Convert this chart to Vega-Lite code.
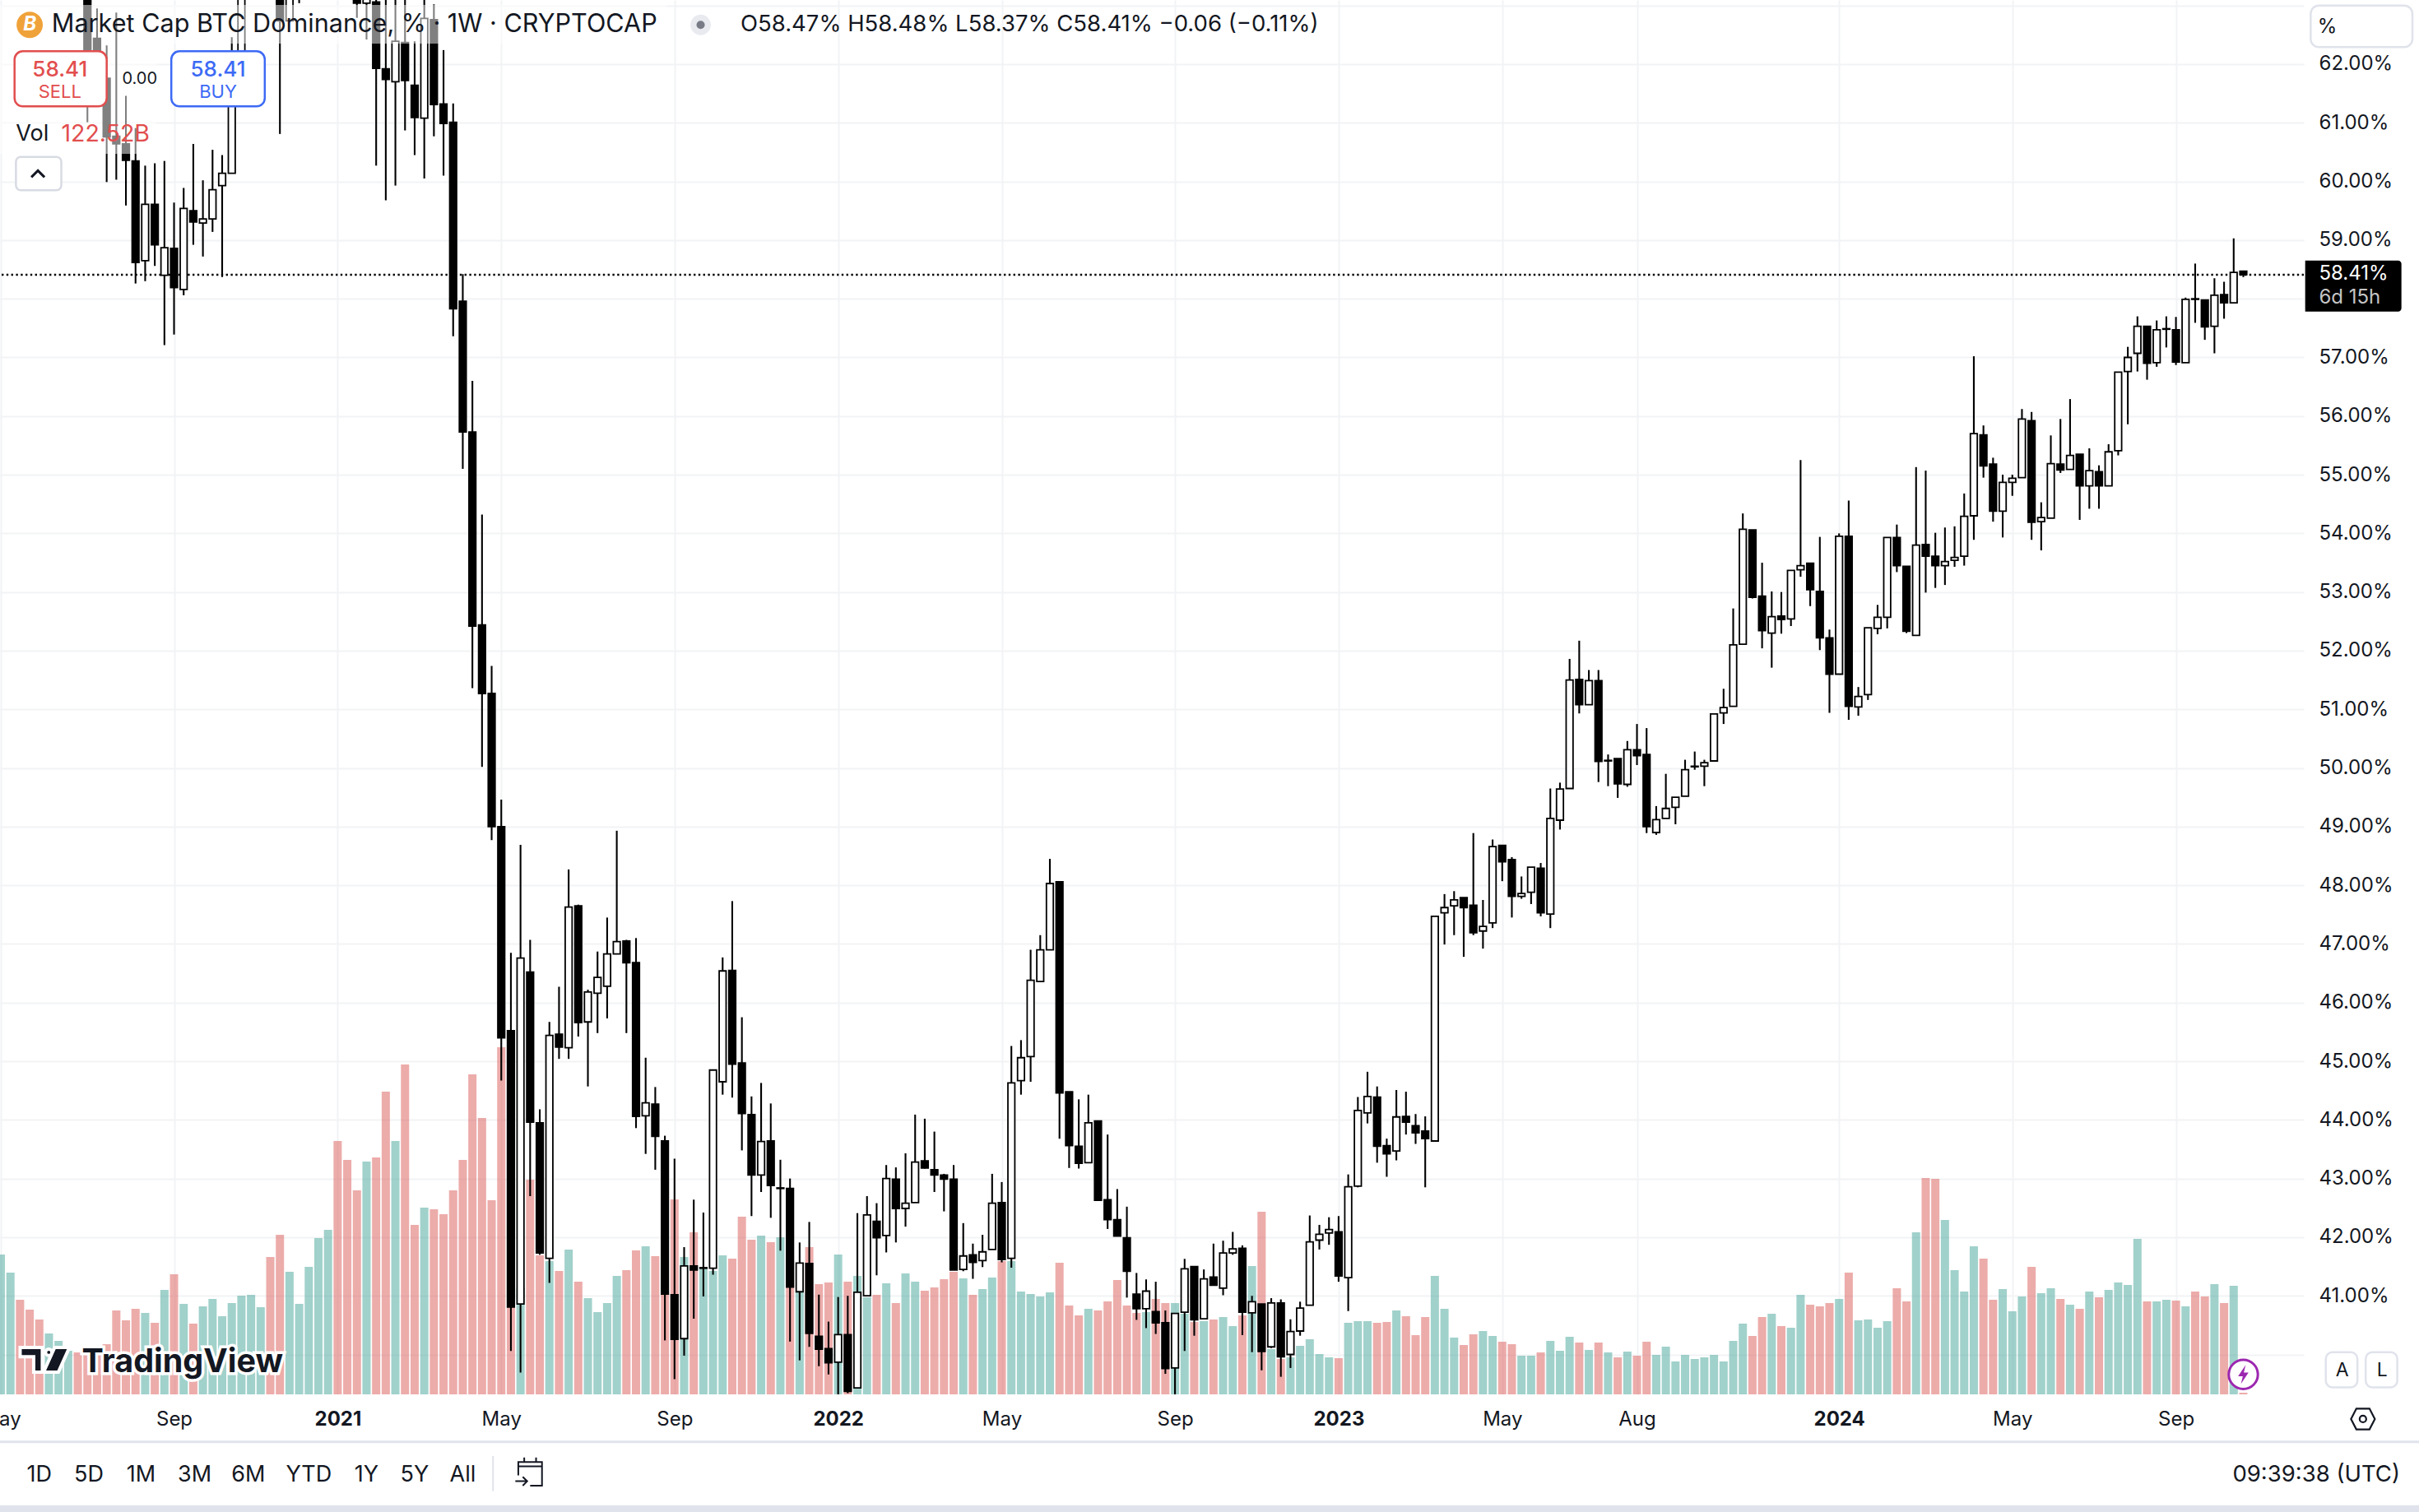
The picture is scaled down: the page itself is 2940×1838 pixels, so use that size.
{
  "$schema": "https://vega.github.io/schema/vega-lite/v6.json",
  "width": 2800,
  "height": 1695,
  "autosize": {"type": "none"},
  "padding": {"left": 0, "top": 0, "right": 140, "bottom": 143},
  "background": "white",
  "datasets": {
    "volume": [
      {"week":"2020-05-04","vol":17.0,"side":"up"},{"week":"2020-05-11","vol":14.8,"side":"up"},{"week":"2020-05-18","vol":11.5,"side":"down"},{"week":"2020-05-25","vol":10.3,"side":"down"},
      {"week":"2020-06-01","vol":9.1,"side":"down"},{"week":"2020-06-08","vol":7.4,"side":"up"},{"week":"2020-06-15","vol":6.5,"side":"up"},{"week":"2020-06-22","vol":5.3,"side":"up"},{"week":"2020-06-29","vol":5.1,"side":"down"},
      {"week":"2020-07-06","vol":4.8,"side":"down"},{"week":"2020-07-13","vol":5.5,"side":"down"},{"week":"2020-07-20","vol":6.1,"side":"down"},{"week":"2020-07-27","vol":10.2,"side":"down"},
      {"week":"2020-08-03","vol":9.0,"side":"down"},{"week":"2020-08-10","vol":10.4,"side":"down"},{"week":"2020-08-17","vol":9.9,"side":"up"},{"week":"2020-08-24","vol":8.7,"side":"down"},{"week":"2020-08-31","vol":12.7,"side":"up"},
      {"week":"2020-09-07","vol":14.6,"side":"down"},{"week":"2020-09-14","vol":11.0,"side":"up"},{"week":"2020-09-21","vol":8.6,"side":"down"},{"week":"2020-09-28","vol":10.7,"side":"up"},
      {"week":"2020-10-05","vol":11.6,"side":"up"},{"week":"2020-10-12","vol":9.5,"side":"up"},{"week":"2020-10-19","vol":11.1,"side":"up"},{"week":"2020-10-26","vol":12.0,"side":"up"},
      {"week":"2020-11-02","vol":12.1,"side":"up"},{"week":"2020-11-09","vol":10.6,"side":"up"},{"week":"2020-11-16","vol":16.7,"side":"down"},{"week":"2020-11-23","vol":19.4,"side":"down"},{"week":"2020-11-30","vol":14.9,"side":"up"},
      {"week":"2020-12-07","vol":11.0,"side":"up"},{"week":"2020-12-14","vol":15.5,"side":"up"},{"week":"2020-12-21","vol":19.0,"side":"up"},{"week":"2020-12-28","vol":20.0,"side":"up"},
      {"week":"2021-01-04","vol":30.8,"side":"down"},{"week":"2021-01-11","vol":28.5,"side":"down"},{"week":"2021-01-18","vol":24.8,"side":"down"},{"week":"2021-01-25","vol":28.3,"side":"up"},
      {"week":"2021-02-01","vol":28.8,"side":"down"},{"week":"2021-02-08","vol":36.8,"side":"down"},{"week":"2021-02-15","vol":30.8,"side":"up"},{"week":"2021-02-22","vol":40.1,"side":"down"},
      {"week":"2021-03-01","vol":20.6,"side":"down"},{"week":"2021-03-08","vol":22.7,"side":"up"},{"week":"2021-03-15","vol":22.5,"side":"down"},{"week":"2021-03-22","vol":21.9,"side":"down"},{"week":"2021-03-29","vol":24.8,"side":"down"},
      {"week":"2021-04-05","vol":28.5,"side":"down"},{"week":"2021-04-12","vol":38.9,"side":"down"},{"week":"2021-04-19","vol":33.6,"side":"down"},{"week":"2021-04-26","vol":23.6,"side":"down"},
      {"week":"2021-05-03","vol":42.2,"side":"down"},{"week":"2021-05-10","vol":20.5,"side":"down"},{"week":"2021-05-17","vol":13.0,"side":"up"},{"week":"2021-05-24","vol":26.1,"side":"down"},{"week":"2021-05-31","vol":16.9,"side":"down"},
      {"week":"2021-06-07","vol":16.2,"side":"up"},{"week":"2021-06-14","vol":15.0,"side":"down"},{"week":"2021-06-21","vol":17.6,"side":"up"},{"week":"2021-06-28","vol":13.7,"side":"down"},
      {"week":"2021-07-05","vol":11.7,"side":"up"},{"week":"2021-07-12","vol":10.0,"side":"up"},{"week":"2021-07-19","vol":11.1,"side":"up"},{"week":"2021-07-26","vol":14.4,"side":"up"},
      {"week":"2021-08-02","vol":15.1,"side":"down"},{"week":"2021-08-09","vol":17.5,"side":"down"},{"week":"2021-08-16","vol":18.0,"side":"up"},{"week":"2021-08-23","vol":16.8,"side":"down"},{"week":"2021-08-30","vol":12.5,"side":"down"},
      {"week":"2021-09-06","vol":23.7,"side":"down"},{"week":"2021-09-13","vol":16.7,"side":"up"},{"week":"2021-09-20","vol":19.7,"side":"down"},{"week":"2021-09-27","vol":15.3,"side":"up"},
      {"week":"2021-10-04","vol":15.0,"side":"up"},{"week":"2021-10-11","vol":16.9,"side":"up"},{"week":"2021-10-18","vol":16.5,"side":"down"},{"week":"2021-10-25","vol":21.6,"side":"down"},
      {"week":"2021-11-01","vol":18.8,"side":"down"},{"week":"2021-11-08","vol":19.3,"side":"up"},{"week":"2021-11-15","vol":18.5,"side":"down"},{"week":"2021-11-22","vol":19.1,"side":"up"},{"week":"2021-11-29","vol":14.0,"side":"down"},
      {"week":"2021-12-06","vol":12.5,"side":"up"},{"week":"2021-12-13","vol":17.9,"side":"down"},{"week":"2021-12-20","vol":13.4,"side":"down"},{"week":"2021-12-27","vol":13.6,"side":"down"},
      {"week":"2022-01-03","vol":17.0,"side":"up"},{"week":"2022-01-10","vol":13.7,"side":"down"},{"week":"2022-01-17","vol":14.4,"side":"up"},{"week":"2022-01-24","vol":11.8,"side":"up"},{"week":"2022-01-31","vol":12.1,"side":"down"},
      {"week":"2022-02-07","vol":13.5,"side":"up"},{"week":"2022-02-14","vol":11.1,"side":"down"},{"week":"2022-02-21","vol":14.7,"side":"up"},{"week":"2022-02-28","vol":13.7,"side":"up"},
      {"week":"2022-03-07","vol":12.6,"side":"down"},{"week":"2022-03-14","vol":13.0,"side":"down"},{"week":"2022-03-21","vol":14.0,"side":"down"},{"week":"2022-03-28","vol":14.9,"side":"down"},
      {"week":"2022-04-04","vol":14.1,"side":"up"},{"week":"2022-04-11","vol":12.1,"side":"down"},{"week":"2022-04-18","vol":12.8,"side":"up"},{"week":"2022-04-25","vol":14.2,"side":"up"},
      {"week":"2022-05-02","vol":16.2,"side":"down"},{"week":"2022-05-09","vol":16.2,"side":"up"},{"week":"2022-05-16","vol":12.5,"side":"up"},{"week":"2022-05-23","vol":12.2,"side":"up"},{"week":"2022-05-30","vol":11.9,"side":"up"},
      {"week":"2022-06-06","vol":12.4,"side":"up"},{"week":"2022-06-13","vol":16.0,"side":"down"},{"week":"2022-06-20","vol":10.8,"side":"down"},{"week":"2022-06-27","vol":9.6,"side":"down"},
      {"week":"2022-07-04","vol":10.4,"side":"up"},{"week":"2022-07-11","vol":10.2,"side":"down"},{"week":"2022-07-18","vol":11.3,"side":"down"},{"week":"2022-07-25","vol":13.9,"side":"down"},
      {"week":"2022-08-01","vol":10.8,"side":"down"},{"week":"2022-08-08","vol":9.9,"side":"down"},{"week":"2022-08-15","vol":10.0,"side":"up"},{"week":"2022-08-22","vol":11.6,"side":"down"},{"week":"2022-08-29","vol":11.1,"side":"down"},
      {"week":"2022-09-05","vol":11.1,"side":"up"},{"week":"2022-09-12","vol":9.8,"side":"up"},{"week":"2022-09-19","vol":8.8,"side":"down"},{"week":"2022-09-26","vol":8.9,"side":"up"},
      {"week":"2022-10-03","vol":9.1,"side":"down"},{"week":"2022-10-10","vol":9.4,"side":"up"},{"week":"2022-10-17","vol":8.3,"side":"up"},{"week":"2022-10-24","vol":9.6,"side":"down"},{"week":"2022-10-31","vol":15.6,"side":"up"},
      {"week":"2022-11-07","vol":22.2,"side":"down"},{"week":"2022-11-14","vol":5.5,"side":"up"},{"week":"2022-11-21","vol":4.3,"side":"down"},{"week":"2022-11-28","vol":4.5,"side":"up"},
      {"week":"2022-12-05","vol":5.9,"side":"up"},{"week":"2022-12-12","vol":6.7,"side":"up"},{"week":"2022-12-19","vol":4.9,"side":"up"},{"week":"2022-12-26","vol":4.5,"side":"up"},
      {"week":"2023-01-02","vol":4.4,"side":"down"},{"week":"2023-01-09","vol":8.7,"side":"up"},{"week":"2023-01-16","vol":8.9,"side":"up"},{"week":"2023-01-23","vol":8.9,"side":"up"},{"week":"2023-01-30","vol":8.7,"side":"down"},
      {"week":"2023-02-06","vol":8.8,"side":"down"},{"week":"2023-02-13","vol":10.2,"side":"up"},{"week":"2023-02-20","vol":9.5,"side":"down"},{"week":"2023-02-27","vol":7.2,"side":"down"},
      {"week":"2023-03-06","vol":9.4,"side":"down"},{"week":"2023-03-13","vol":14.4,"side":"up"},{"week":"2023-03-20","vol":10.4,"side":"up"},{"week":"2023-03-27","vol":6.9,"side":"up"},
      {"week":"2023-04-03","vol":6.0,"side":"down"},{"week":"2023-04-10","vol":7.3,"side":"down"},{"week":"2023-04-17","vol":7.7,"side":"up"},{"week":"2023-04-24","vol":7.1,"side":"up"},
      {"week":"2023-05-01","vol":6.4,"side":"down"},{"week":"2023-05-08","vol":6.1,"side":"down"},{"week":"2023-05-15","vol":4.7,"side":"up"},{"week":"2023-05-22","vol":4.7,"side":"up"},{"week":"2023-05-29","vol":5.1,"side":"down"},
      {"week":"2023-06-05","vol":6.5,"side":"up"},{"week":"2023-06-12","vol":5.3,"side":"up"},{"week":"2023-06-19","vol":7.0,"side":"up"},{"week":"2023-06-26","vol":6.3,"side":"down"},
      {"week":"2023-07-03","vol":5.4,"side":"up"},{"week":"2023-07-10","vol":6.3,"side":"down"},{"week":"2023-07-17","vol":5.1,"side":"up"},{"week":"2023-07-24","vol":4.5,"side":"down"},{"week":"2023-07-31","vol":5.2,"side":"up"},
      {"week":"2023-08-07","vol":4.7,"side":"down"},{"week":"2023-08-14","vol":6.4,"side":"down"},{"week":"2023-08-21","vol":4.8,"side":"up"},{"week":"2023-08-28","vol":5.8,"side":"up"},
      {"week":"2023-09-04","vol":4.0,"side":"up"},{"week":"2023-09-11","vol":4.8,"side":"up"},{"week":"2023-09-18","vol":4.3,"side":"up"},{"week":"2023-09-25","vol":4.5,"side":"up"},
      {"week":"2023-10-02","vol":4.8,"side":"up"},{"week":"2023-10-09","vol":4.0,"side":"up"},{"week":"2023-10-16","vol":6.5,"side":"up"},{"week":"2023-10-23","vol":8.6,"side":"up"},{"week":"2023-10-30","vol":7.1,"side":"down"},
      {"week":"2023-11-06","vol":9.4,"side":"down"},{"week":"2023-11-13","vol":9.8,"side":"up"},{"week":"2023-11-20","vol":8.3,"side":"down"},{"week":"2023-11-27","vol":8.1,"side":"up"},
      {"week":"2023-12-04","vol":12.1,"side":"up"},{"week":"2023-12-11","vol":10.9,"side":"down"},{"week":"2023-12-18","vol":10.7,"side":"down"},{"week":"2023-12-25","vol":11.1,"side":"down"},
      {"week":"2024-01-01","vol":11.6,"side":"up"},{"week":"2024-01-08","vol":14.8,"side":"down"},{"week":"2024-01-15","vol":9.0,"side":"up"},{"week":"2024-01-22","vol":9.1,"side":"up"},{"week":"2024-01-29","vol":8.1,"side":"up"},
      {"week":"2024-02-05","vol":8.9,"side":"up"},{"week":"2024-02-12","vol":12.9,"side":"down"},{"week":"2024-02-19","vol":11.3,"side":"down"},{"week":"2024-02-26","vol":19.7,"side":"up"},
      {"week":"2024-03-04","vol":26.3,"side":"down"},{"week":"2024-03-11","vol":26.2,"side":"down"},{"week":"2024-03-18","vol":21.2,"side":"up"},{"week":"2024-03-25","vol":15.1,"side":"up"},
      {"week":"2024-04-01","vol":12.5,"side":"up"},{"week":"2024-04-08","vol":18.0,"side":"up"},{"week":"2024-04-15","vol":16.5,"side":"down"},{"week":"2024-04-22","vol":11.5,"side":"down"},{"week":"2024-04-29","vol":12.8,"side":"up"},
      {"week":"2024-05-06","vol":10.1,"side":"up"},{"week":"2024-05-13","vol":11.9,"side":"up"},{"week":"2024-05-20","vol":15.5,"side":"down"},{"week":"2024-05-27","vol":12.3,"side":"up"},
      {"week":"2024-06-03","vol":12.9,"side":"up"},{"week":"2024-06-10","vol":11.6,"side":"down"},{"week":"2024-06-17","vol":10.9,"side":"up"},{"week":"2024-06-24","vol":10.4,"side":"down"},
      {"week":"2024-07-01","vol":12.5,"side":"up"},{"week":"2024-07-08","vol":11.8,"side":"down"},{"week":"2024-07-15","vol":12.7,"side":"up"},{"week":"2024-07-22","vol":13.6,"side":"up"},{"week":"2024-07-29","vol":13.3,"side":"up"},
      {"week":"2024-08-05","vol":18.9,"side":"up"},{"week":"2024-08-12","vol":11.3,"side":"down"},{"week":"2024-08-19","vol":11.3,"side":"up"},{"week":"2024-08-26","vol":11.5,"side":"up"},
      {"week":"2024-09-02","vol":11.4,"side":"down"},{"week":"2024-09-09","vol":10.7,"side":"up"},{"week":"2024-09-16","vol":12.5,"side":"down"},{"week":"2024-09-23","vol":11.9,"side":"down"},{"week":"2024-09-30","vol":13.4,"side":"up"},
      {"week":"2024-10-07","vol":11.1,"side":"down"},{"week":"2024-10-14","vol":13.2,"side":"up"},{"week":"2024-10-21","vol":0.2,"side":"down"}
    ],
    "candles": [
      {"week":"2020-07-06","open":63.5,"high":63.8,"low":61.01,"close":62.2},
      {"week":"2020-07-13","open":62.44,"high":62.95,"low":61.6,"close":62.1},
      {"week":"2020-07-20","open":61.76,"high":62.32,"low":59.99,"close":60.76},
      {"week":"2020-07-27","open":60.77,"high":62.88,"low":60.03,"close":60.64},
      {"week":"2020-08-03","open":60.64,"high":61.46,"low":59.59,"close":60.36},
      {"week":"2020-08-10","open":60.35,"high":60.91,"low":58.26,"close":58.62},
      {"week":"2020-08-17","open":58.65,"high":60.27,"low":58.3,"close":59.61},
      {"week":"2020-08-24","open":59.61,"high":60.31,"low":58.56,"close":58.92},
      {"week":"2020-08-31","open":58.4,"high":60.35,"low":57.21,"close":58.87},
      {"week":"2020-09-07","open":58.86,"high":59.64,"low":57.39,"close":58.19},
      {"week":"2020-09-14","open":58.16,"high":59.89,"low":58.06,"close":59.54},
      {"week":"2020-09-21","open":59.5,"high":60.64,"low":58.92,"close":59.31},
      {"week":"2020-09-28","open":59.29,"high":60.02,"low":58.72,"close":59.36},
      {"week":"2020-10-05","open":59.36,"high":60.54,"low":59.14,"close":59.86},
      {"week":"2020-10-12","open":59.93,"high":60.45,"low":58.37,"close":60.14},
      {"week":"2020-10-19","open":60.14,"high":62.46,"low":60.14,"close":62.16},
      {"week":"2020-10-26","open":61.9,"high":64.5,"low":61.9,"close":64.3},
      {"week":"2020-11-23","open":63.6,"high":63.8,"low":60.81,"close":62.74},
      {"week":"2020-11-30","open":62.74,"high":63.8,"low":62.74,"close":63.6},
      {"week":"2020-12-07","open":63.6,"high":63.8,"low":63.04,"close":63.3},
      {"week":"2021-01-18","open":63.4,"high":63.5,"low":62.79,"close":63.04},
      {"week":"2021-01-25","open":63.04,"high":63.5,"low":62.42,"close":63.3},
      {"week":"2021-02-01","open":63.06,"high":63.3,"low":60.27,"close":61.93},
      {"week":"2021-02-08","open":61.92,"high":63.3,"low":59.68,"close":61.74},
      {"week":"2021-02-15","open":61.7,"high":63.3,"low":59.93,"close":62.39},
      {"week":"2021-02-22","open":62.37,"high":63.3,"low":60.87,"close":61.72},
      {"week":"2021-03-01","open":61.64,"high":62.39,"low":60.45,"close":61.09},
      {"week":"2021-03-08","open":61.08,"high":63.3,"low":60.05,"close":62.78},
      {"week":"2021-03-15","open":62.76,"high":63.02,"low":60.77,"close":61.31},
      {"week":"2021-03-22","open":61.32,"high":62.24,"low":60.1,"close":60.99},
      {"week":"2021-03-29","open":61.01,"high":61.33,"low":57.36,"close":57.83},
      {"week":"2021-04-05","open":57.96,"high":58.42,"low":55.1,"close":55.73},
      {"week":"2021-04-12","open":55.73,"high":56.6,"low":51.36,"close":52.42},
      {"week":"2021-04-19","open":52.44,"high":54.32,"low":50.02,"close":51.27},
      {"week":"2021-04-26","open":51.27,"high":51.74,"low":48.77,"close":49.0},
      {"week":"2021-05-03","open":49.0,"high":49.46,"low":44.67,"close":45.4},
      {"week":"2021-05-10","open":45.52,"high":46.85,"low":40.06,"close":40.81},
      {"week":"2021-05-17","open":40.86,"high":48.69,"low":39.69,"close":46.76},
      {"week":"2021-05-24","open":46.52,"high":47.07,"low":42.7,"close":43.96},
      {"week":"2021-05-31","open":43.95,"high":44.18,"low":41.7,"close":41.73},
      {"week":"2021-06-07","open":41.64,"high":45.67,"low":41.22,"close":45.44},
      {"week":"2021-06-14","open":45.46,"high":46.27,"low":45.04,"close":45.24},
      {"week":"2021-06-21","open":45.23,"high":48.27,"low":45.04,"close":47.63},
      {"week":"2021-06-28","open":47.65,"high":47.67,"low":45.42,"close":45.66},
      {"week":"2021-07-05","open":45.67,"high":46.22,"low":44.57,"close":46.18},
      {"week":"2021-07-12","open":46.16,"high":46.87,"low":45.48,"close":46.43},
      {"week":"2021-07-19","open":46.28,"high":47.45,"low":45.73,"close":46.83},
      {"week":"2021-07-26","open":46.83,"high":48.93,"low":46.83,"close":47.04},
      {"week":"2021-08-02","open":47.05,"high":47.07,"low":45.48,"close":46.68},
      {"week":"2021-08-09","open":46.68,"high":47.1,"low":43.86,"close":44.06},
      {"week":"2021-08-16","open":44.07,"high":45.06,"low":43.42,"close":44.29},
      {"week":"2021-08-23","open":44.27,"high":44.56,"low":43.15,"close":43.72},
      {"week":"2021-08-30","open":43.64,"high":43.73,"low":40.24,"close":41.03},
      {"week":"2021-09-06","open":41.02,"high":43.34,"low":39.58,"close":40.26},
      {"week":"2021-09-13","open":40.27,"high":41.83,"low":39.98,"close":41.51},
      {"week":"2021-09-20","open":41.51,"high":42.64,"low":40.61,"close":41.44},
      {"week":"2021-09-27","open":41.48,"high":42.42,"low":40.99,"close":41.47},
      {"week":"2021-10-04","open":41.47,"high":44.85,"low":41.36,"close":44.85},
      {"week":"2021-10-11","open":44.65,"high":46.77,"low":44.43,"close":46.54},
      {"week":"2021-10-18","open":46.55,"high":47.73,"low":44.38,"close":44.95},
      {"week":"2021-10-25","open":44.97,"high":45.75,"low":43.48,"close":44.11},
      {"week":"2021-11-01","open":44.09,"high":44.4,"low":42.36,"close":43.06},
      {"week":"2021-11-08","open":43.06,"high":44.63,"low":42.77,"close":43.63},
      {"week":"2021-11-15","open":43.64,"high":44.28,"low":42.33,"close":42.88},
      {"week":"2021-11-22","open":42.84,"high":43.32,"low":41.77,"close":42.83},
      {"week":"2021-11-29","open":42.83,"high":43.0,"low":40.22,"close":41.15},
      {"week":"2021-12-06","open":41.07,"high":41.91,"low":39.9,"close":41.56},
      {"week":"2021-12-13","open":41.55,"high":42.26,"low":40.13,"close":40.36},
      {"week":"2021-12-20","open":40.31,"high":41.02,"low":39.8,"close":40.09},
      {"week":"2021-12-27","open":40.1,"high":40.56,"low":39.66,"close":39.86},
      {"week":"2022-01-03","open":39.87,"high":40.98,"low":39.3,"close":40.34},
      {"week":"2022-01-10","open":40.34,"high":41.0,"low":39.34,"close":39.37},
      {"week":"2022-01-17","open":39.43,"high":42.41,"low":39.43,"close":41.06},
      {"week":"2022-01-24","open":41.0,"high":42.7,"low":41.0,"close":42.38},
      {"week":"2022-01-31","open":42.27,"high":42.58,"low":41.35,"close":41.99},
      {"week":"2022-02-07","open":42.03,"high":43.23,"low":41.74,"close":43.0},
      {"week":"2022-02-14","open":42.99,"high":43.19,"low":41.91,"close":42.49},
      {"week":"2022-02-21","open":42.49,"high":43.43,"low":42.18,"close":42.58},
      {"week":"2022-02-28","open":42.59,"high":44.09,"low":42.59,"close":43.28},
      {"week":"2022-03-07","open":43.3,"high":44.02,"low":43.17,"close":43.18},
      {"week":"2022-03-14","open":43.15,"high":43.8,"low":42.77,"close":43.06},
      {"week":"2022-03-21","open":43.06,"high":43.08,"low":42.44,"close":42.99},
      {"week":"2022-03-28","open":42.99,"high":43.23,"low":41.44,"close":41.44},
      {"week":"2022-04-04","open":41.45,"high":42.24,"low":41.42,"close":41.68},
      {"week":"2022-04-11","open":41.7,"high":41.89,"low":41.29,"close":41.57},
      {"week":"2022-04-18","open":41.6,"high":42.04,"low":41.49,"close":41.75},
      {"week":"2022-04-25","open":41.79,"high":43.08,"low":41.79,"close":42.58},
      {"week":"2022-05-02","open":42.59,"high":42.94,"low":41.57,"close":41.62},
      {"week":"2022-05-09","open":41.64,"high":45.26,"low":41.48,"close":44.63},
      {"week":"2022-05-16","open":44.67,"high":45.36,"low":44.43,"close":45.06},
      {"week":"2022-05-23","open":45.08,"high":46.9,"low":44.65,"close":46.38},
      {"week":"2022-05-30","open":46.36,"high":47.15,"low":46.36,"close":46.9},
      {"week":"2022-06-06","open":46.9,"high":48.45,"low":46.9,"close":48.03},
      {"week":"2022-06-13","open":48.06,"high":48.06,"low":43.68,"close":44.46},
      {"week":"2022-06-20","open":44.48,"high":44.48,"low":43.18,"close":43.56},
      {"week":"2022-06-27","open":43.55,"high":44.35,"low":43.17,"close":43.26},
      {"week":"2022-07-04","open":43.27,"high":44.43,"low":43.27,"close":43.95},
      {"week":"2022-07-11","open":43.98,"high":43.98,"low":42.63,"close":42.63},
      {"week":"2022-07-18","open":42.64,"high":43.75,"low":42.14,"close":42.3},
      {"week":"2022-07-25","open":42.3,"high":42.82,"low":42.02,"close":42.02},
      {"week":"2022-08-01","open":41.99,"high":42.52,"low":40.97,"close":41.42},
      {"week":"2022-08-08","open":41.03,"high":41.39,"low":40.59,"close":40.78},
      {"week":"2022-08-15","open":40.78,"high":41.28,"low":40.45,"close":41.08},
      {"week":"2022-08-22","open":40.73,"high":41.24,"low":40.35,"close":40.54},
      {"week":"2022-08-29","open":40.54,"high":40.75,"low":39.67,"close":39.76},
      {"week":"2022-09-05","open":39.77,"high":40.7,"low":39.3,"close":40.7},
      {"week":"2022-09-12","open":40.72,"high":41.63,"low":40.06,"close":41.46},
      {"week":"2022-09-19","open":41.5,"high":41.5,"low":40.32,"close":40.59},
      {"week":"2022-09-26","open":40.61,"high":41.45,"low":40.61,"close":41.29},
      {"week":"2022-10-03","open":41.32,"high":41.89,"low":41.18,"close":41.18},
      {"week":"2022-10-10","open":41.13,"high":41.94,"low":41.01,"close":41.73},
      {"week":"2022-10-17","open":41.73,"high":42.09,"low":41.7,"close":41.8},
      {"week":"2022-10-24","open":41.81,"high":41.86,"low":40.33,"close":40.72},
      {"week":"2022-10-31","open":40.71,"high":41.0,"low":40.04,"close":40.9},
      {"week":"2022-11-07","open":40.86,"high":40.86,"low":39.73,"close":40.05},
      {"week":"2022-11-14","open":40.13,"high":40.96,"low":40.11,"close":40.88},
      {"week":"2022-11-21","open":40.88,"high":40.94,"low":39.62,"close":39.96},
      {"week":"2022-11-28","open":40.0,"high":40.6,"low":39.77,"close":40.39},
      {"week":"2022-12-05","open":40.4,"high":40.9,"low":40.32,"close":40.79},
      {"week":"2022-12-12","open":40.84,"high":42.37,"low":40.84,"close":41.92},
      {"week":"2022-12-19","open":41.95,"high":42.21,"low":41.79,"close":42.05},
      {"week":"2022-12-26","open":42.07,"high":42.34,"low":41.87,"close":42.13},
      {"week":"2023-01-02","open":42.09,"high":42.36,"low":41.24,"close":41.34},
      {"week":"2023-01-09","open":41.31,"high":43.07,"low":40.74,"close":42.86},
      {"week":"2023-01-16","open":42.87,"high":44.39,"low":42.85,"close":44.16},
      {"week":"2023-01-23","open":44.12,"high":44.82,"low":43.94,"close":44.4},
      {"week":"2023-01-30","open":44.39,"high":44.57,"low":43.27,"close":43.55},
      {"week":"2023-02-06","open":43.56,"high":43.68,"low":43.03,"close":43.42},
      {"week":"2023-02-13","open":43.47,"high":44.51,"low":43.31,"close":44.05},
      {"week":"2023-02-20","open":44.06,"high":44.48,"low":43.75,"close":43.96},
      {"week":"2023-02-27","open":43.9,"high":44.1,"low":43.59,"close":43.78},
      {"week":"2023-03-06","open":43.81,"high":44.06,"low":42.85,"close":43.68},
      {"week":"2023-03-13","open":43.64,"high":47.47,"low":43.64,"close":47.47},
      {"week":"2023-03-20","open":47.53,"high":47.85,"low":46.99,"close":47.62},
      {"week":"2023-03-27","open":47.65,"high":47.9,"low":47.15,"close":47.75},
      {"week":"2023-04-03","open":47.79,"high":47.79,"low":46.78,"close":47.62},
      {"week":"2023-04-10","open":47.66,"high":48.89,"low":47.15,"close":47.19},
      {"week":"2023-04-17","open":47.22,"high":47.75,"low":46.92,"close":47.3},
      {"week":"2023-04-24","open":47.36,"high":48.78,"low":47.27,"close":48.66},
      {"week":"2023-05-01","open":48.68,"high":48.68,"low":48.07,"close":48.4},
      {"week":"2023-05-08","open":48.44,"high":48.48,"low":47.45,"close":47.81},
      {"week":"2023-05-15","open":47.81,"high":48.15,"low":47.77,"close":47.86},
      {"week":"2023-05-22","open":47.88,"high":48.31,"low":47.68,"close":48.31},
      {"week":"2023-05-29","open":48.29,"high":48.38,"low":47.47,"close":47.53},
      {"week":"2023-06-05","open":47.51,"high":49.65,"low":47.27,"close":49.14},
      {"week":"2023-06-12","open":49.11,"high":49.75,"low":48.95,"close":49.64},
      {"week":"2023-06-19","open":49.65,"high":51.86,"low":49.65,"close":51.5},
      {"week":"2023-06-26","open":51.51,"high":52.17,"low":50.93,"close":51.08},
      {"week":"2023-07-03","open":51.08,"high":51.67,"low":51.08,"close":51.49},
      {"week":"2023-07-10","open":51.49,"high":51.67,"low":49.76,"close":50.11},
      {"week":"2023-07-17","open":50.13,"high":50.23,"low":49.69,"close":50.12},
      {"week":"2023-07-24","open":50.16,"high":50.16,"low":49.49,"close":49.73},
      {"week":"2023-07-31","open":49.72,"high":50.46,"low":49.68,"close":50.31},
      {"week":"2023-08-07","open":50.31,"high":50.75,"low":50.05,"close":50.21},
      {"week":"2023-08-14","open":50.23,"high":50.68,"low":48.89,"close":49.0},
      {"week":"2023-08-21","open":48.9,"high":49.35,"low":48.86,"close":49.12},
      {"week":"2023-08-28","open":49.14,"high":49.9,"low":49.14,"close":49.31},
      {"week":"2023-09-04","open":49.33,"high":49.5,"low":49.04,"close":49.5},
      {"week":"2023-09-11","open":49.52,"high":50.14,"low":49.52,"close":49.97},
      {"week":"2023-09-18","open":50.03,"high":50.28,"low":49.97,"close":50.02},
      {"week":"2023-09-25","open":50.03,"high":50.14,"low":49.69,"close":50.09},
      {"week":"2023-10-02","open":50.12,"high":50.92,"low":50.12,"close":50.92},
      {"week":"2023-10-09","open":50.94,"high":51.35,"low":50.75,"close":51.03},
      {"week":"2023-10-16","open":51.05,"high":52.72,"low":51.05,"close":52.1},
      {"week":"2023-10-23","open":52.11,"high":54.34,"low":52.11,"close":54.07},
      {"week":"2023-10-30","open":54.06,"high":54.06,"low":52.89,"close":52.91},
      {"week":"2023-11-06","open":52.93,"high":53.5,"low":52.04,"close":52.34},
      {"week":"2023-11-13","open":52.3,"high":53.01,"low":51.71,"close":52.58},
      {"week":"2023-11-20","open":52.59,"high":53.0,"low":52.29,"close":52.53},
      {"week":"2023-11-27","open":52.54,"high":53.37,"low":52.42,"close":53.37},
      {"week":"2023-12-04","open":53.38,"high":55.25,"low":53.26,"close":53.45},
      {"week":"2023-12-11","open":53.49,"high":53.49,"low":52.76,"close":53.04},
      {"week":"2023-12-18","open":53.01,"high":53.94,"low":52.01,"close":52.22},
      {"week":"2023-12-25","open":52.22,"high":52.36,"low":50.94,"close":51.6},
      {"week":"2024-01-01","open":51.6,"high":54.0,"low":51.6,"close":53.95},
      {"week":"2024-01-08","open":53.95,"high":54.56,"low":50.82,"close":51.05},
      {"week":"2024-01-15","open":51.04,"high":51.38,"low":50.89,"close":51.22},
      {"week":"2024-01-22","open":51.25,"high":52.39,"low":51.16,"close":52.39},
      {"week":"2024-01-29","open":52.38,"high":52.78,"low":52.28,"close":52.57},
      {"week":"2024-02-05","open":52.57,"high":53.93,"low":52.38,"close":53.93},
      {"week":"2024-02-12","open":53.93,"high":54.15,"low":53.34,"close":53.45},
      {"week":"2024-02-19","open":53.44,"high":53.44,"low":52.3,"close":52.33},
      {"week":"2024-02-26","open":52.26,"high":55.13,"low":52.26,"close":53.8},
      {"week":"2024-03-04","open":53.81,"high":55.07,"low":52.99,"close":53.61},
      {"week":"2024-03-11","open":53.61,"high":54.01,"low":53.07,"close":53.45},
      {"week":"2024-03-18","open":53.45,"high":54.1,"low":53.12,"close":53.52},
      {"week":"2024-03-25","open":53.54,"high":54.12,"low":53.43,"close":53.59},
      {"week":"2024-04-01","open":53.61,"high":54.68,"low":53.45,"close":54.29},
      {"week":"2024-04-08","open":54.3,"high":57.02,"low":53.89,"close":55.7},
      {"week":"2024-04-15","open":55.68,"high":55.84,"low":54.95,"close":55.15},
      {"week":"2024-04-22","open":55.18,"high":55.29,"low":54.2,"close":54.38},
      {"week":"2024-04-29","open":54.38,"high":55.0,"low":53.93,"close":54.87},
      {"week":"2024-05-06","open":54.87,"high":55.0,"low":54.64,"close":54.94},
      {"week":"2024-05-13","open":54.95,"high":56.12,"low":54.95,"close":55.95},
      {"week":"2024-05-20","open":55.92,"high":56.07,"low":53.89,"close":54.19},
      {"week":"2024-05-27","open":54.2,"high":54.53,"low":53.71,"close":54.27},
      {"week":"2024-06-03","open":54.26,"high":55.67,"low":54.26,"close":55.19},
      {"week":"2024-06-10","open":55.18,"high":55.95,"low":55.03,"close":55.08},
      {"week":"2024-06-17","open":55.09,"high":56.29,"low":55.09,"close":55.33},
      {"week":"2024-06-24","open":55.35,"high":55.35,"low":54.23,"close":54.81},
      {"week":"2024-07-01","open":54.81,"high":55.45,"low":54.42,"close":55.07},
      {"week":"2024-07-08","open":55.05,"high":55.16,"low":54.42,"close":54.81},
      {"week":"2024-07-15","open":54.81,"high":55.52,"low":54.81,"close":55.39},
      {"week":"2024-07-22","open":55.41,"high":56.75,"low":55.33,"close":56.75},
      {"week":"2024-07-29","open":56.76,"high":57.18,"low":55.86,"close":57.0},
      {"week":"2024-08-05","open":57.07,"high":57.7,"low":56.76,"close":57.53},
      {"week":"2024-08-12","open":57.53,"high":57.53,"low":56.62,"close":56.9},
      {"week":"2024-08-19","open":56.91,"high":57.63,"low":56.84,"close":57.47},
      {"week":"2024-08-26","open":57.49,"high":57.7,"low":57.17,"close":57.48},
      {"week":"2024-09-02","open":57.47,"high":57.69,"low":56.87,"close":56.92},
      {"week":"2024-09-09","open":56.91,"high":58.02,"low":56.91,"close":57.99},
      {"week":"2024-09-16","open":58.0,"high":58.6,"low":57.59,"close":57.99},
      {"week":"2024-09-23","open":57.98,"high":57.98,"low":57.3,"close":57.52},
      {"week":"2024-09-30","open":57.53,"high":58.35,"low":57.07,"close":58.06},
      {"week":"2024-10-07","open":58.07,"high":58.29,"low":57.66,"close":57.93},
      {"week":"2024-10-14","open":57.93,"high":59.03,"low":57.93,"close":58.45},
      {"week":"2024-10-21","open":58.47,"high":58.48,"low":58.37,"close":58.41}
    ]
  },
  "resolve": {"scale": {"y": "independent"}},
  "layer": [
    {
      "data": {"name": "volume"},
      "mark": {"type": "bar", "width": 10, "opacity": 0.5},
      "encoding": {
        "x": {
          "field": "week",
          "type": "temporal",
          "scale": {"type": "utc", "nice": false, "padding": 0, "domainMin": {"year": 2020, "month": 5, "date": 3, "hours": 10, "utc": true}, "domainMax": {"year": 2024, "month": 12, "date": 4, "utc": true}},
          "axis": {
            "title": null,
            "orient": "bottom",
            "values": ["2020-05-04","2020-09-07","2021-01-04","2021-05-03","2021-09-06","2022-01-03","2022-05-02","2022-09-05","2023-01-02","2023-05-01","2023-08-07","2024-01-01","2024-05-06","2024-09-02"],
            "labelExpr": "utcmonth(datum.value) == 0 ? utcFormat(datum.value, '%Y') : utcFormat(datum.value, '%b')",
            "labelFont": "Inter",
            "labelFontSize": 24,
            "labelColor": "#131722",
            "labelFontWeight": {"condition": {"test": "utcmonth(datum.value) == 0", "value": "bold"}, "value": "normal"},
            "labelBaseline": "middle",
            "labelPadding": 30,
            "labelOverlap": false,
            "labelFlush": false,
            "labelBound": false,
            "domain": false,
            "ticks": false,
            "grid": true,
            "gridColor": "#f2f3f5",
            "gridWidth": 2
          }
        },
        "y": {"field": "vol", "type": "quantitative", "scale": {"domain": [0, 169.5]}, "axis": null},
        "color": {"field": "side", "type": "nominal", "scale": {"domain": ["up", "down"], "range": ["#43a397", "#d95955"]}, "legend": null}
      }
    },
    {
      "layer": [
        {
          "data": {"name": "candles"},
          "mark": {"type": "rule", "color": "black", "strokeWidth": 2.1, "clip": true},
          "encoding": {
            "x": {"field": "week", "type": "temporal"},
            "y": {
              "field": "low",
              "type": "quantitative",
              "scale": {"domainMin": 39.32, "domainMax": 63.094, "nice": false, "zero": false},
              "axis": {
                "title": null,
                "orient": "right",
                "values": [40,41,42,43,44,45,46,47,48,49,50,51,52,53,54,55,56,57,58,59,60,61,62,63],
                "labelExpr": "datum.value == 40 || datum.value == 58 || datum.value == 63 ? '' : format(datum.value, '.2f') + '%'",
                "labelFont": "Inter",
                "labelFontSize": 24,
                "labelColor": "#131722",
                "labelAlign": "left",
                "labelBaseline": "middle",
                "labelPadding": 18,
                "labelOverlap": false,
                "labelBound": false,
                "domain": false,
                "ticks": false,
                "grid": true,
                "gridColor": "#f2f3f5",
                "gridWidth": 2
              }
            },
            "y2": {"field": "high"}
          }
        },
        {
          "data": {"values": [{}]},
          "mark": {"type": "rule", "color": "black", "strokeWidth": 2.4, "strokeDash": [2.4, 3.4]},
          "encoding": {"y": {"datum": 58.41}}
        },
        {
          "data": {"name": "candles"},
          "mark": {"type": "bar", "width": 8.4, "stroke": "black", "strokeWidth": 1.8, "clip": true},
          "encoding": {
            "x": {"field": "week", "type": "temporal"},
            "y": {"field": "open", "type": "quantitative"},
            "y2": {"field": "close"},
            "fill": {"condition": {"test": "datum.close >= datum.open", "value": "white"}, "value": "black"}
          }
        },
        {
          "data": {"values": [{}]},
          "layer": [
            {"mark": {"type": "rect", "fill": "white", "opacity": 0.5}, "encoding": {"x": {"datum": {"year":2020,"month":5,"date":3,"utc":true}, "type": "temporal"}, "x2": {"datum": {"year":2021,"month":8,"date":31,"utc":true}}, "y": {"datum": 63.01}, "y2": {"datum": 62.35}}},
            {"mark": {"type": "rect", "fill": "white", "opacity": 0.5}, "encoding": {"x": {"datum": {"year":2020,"month":5,"date":3,"utc":true}, "type": "temporal"}, "x2": {"datum": {"year":2020,"month":8,"date":25,"utc":true}}, "y": {"datum": 62.35}, "y2": {"datum": 60.47}}},
            {"mark": {"type": "point", "shape": "circle", "filled": true, "color": "#f0a23a", "opacity": 1, "size": 1018}, "encoding": {"x": {"datum": {"year":2020,"month":5,"date":25,"utc":true}, "type": "temporal"}, "y": {"datum": 62.67}}},
            {"mark": {"type": "text", "text": "B", "font": "Inter", "fontSize": 24, "fontWeight": "bold", "fontStyle": "italic", "color": "white", "align": "center", "baseline": "middle"}, "encoding": {"x": {"datum": {"year":2020,"month":5,"date":25,"utc":true}, "type": "temporal"}, "y": {"datum": 62.67}}},
            {"mark": {"type": "text", "text": "Market Cap BTC Dominance, %  ·  1W  ·  CRYPTOCAP", "font": "Inter", "fontSize": 30.6, "color": "#131722", "align": "left", "baseline": "middle"}, "encoding": {"x": {"datum": {"year":2020,"month":6,"date":10,"utc":true}, "type": "temporal"}, "y": {"datum": 62.67}}},
            {"mark": {"type": "point", "shape": "circle", "filled": true, "color": "#e8eaf0", "opacity": 1, "size": 615}, "encoding": {"x": {"datum": {"year":2021,"month":9,"date":25,"utc":true}, "type": "temporal"}, "y": {"datum": 62.67}}},
            {"mark": {"type": "point", "shape": "circle", "filled": true, "color": "#787b86", "opacity": 1, "size": 100}, "encoding": {"x": {"datum": {"year":2021,"month":9,"date":25,"utc":true}, "type": "temporal"}, "y": {"datum": 62.67}}},
            {"mark": {"type": "text", "text": "O58.47%  H58.48%  L58.37%  C58.41%  −0.06 (−0.11%)", "font": "Inter", "fontSize": 27.5, "color": "#131722", "align": "left", "baseline": "middle"}, "encoding": {"x": {"datum": {"year":2021,"month":10,"date":24,"utc":true}, "type": "temporal"}, "y": {"datum": 62.67}}},
            {"mark": {"type": "rect", "fill": "white", "stroke": "#e24e4e", "strokeWidth": 2.5, "cornerRadius": 10}, "encoding": {"x": {"datum": {"year":2020,"month":5,"date":14,"utc":true}, "type": "temporal"}, "x2": {"datum": {"year":2020,"month":7,"date":20,"utc":true}}, "y": {"datum": 62.22}, "y2": {"datum": 61.28}}},
            {"mark": {"type": "text", "text": "58.41", "font": "Inter", "fontSize": 26, "fontWeight": 500, "color": "#e24e4e", "align": "center", "baseline": "middle"}, "encoding": {"x": {"datum": {"year":2020,"month":6,"date":16,"utc":true}, "type": "temporal"}, "y": {"datum": 61.9}}},
            {"mark": {"type": "text", "text": "SELL", "font": "Inter", "fontSize": 22, "color": "#e24e4e", "align": "center", "baseline": "middle"}, "encoding": {"x": {"datum": {"year":2020,"month":6,"date":16,"utc":true}, "type": "temporal"}, "y": {"datum": 61.52}}},
            {"mark": {"type": "text", "text": "0.00", "font": "Inter", "fontSize": 20, "color": "#131722", "align": "center", "baseline": "middle"}, "encoding": {"x": {"datum": {"year":2020,"month":8,"date":13,"utc":true}, "type": "temporal"}, "y": {"datum": 61.75}}},
            {"mark": {"type": "rect", "fill": "white", "stroke": "#3d6af5", "strokeWidth": 2.5, "cornerRadius": 10}, "encoding": {"x": {"datum": {"year":2020,"month":9,"date":5,"utc":true}, "type": "temporal"}, "x2": {"datum": {"year":2020,"month":11,"date":12,"utc":true}}, "y": {"datum": 62.22}, "y2": {"datum": 61.28}}},
            {"mark": {"type": "text", "text": "58.41", "font": "Inter", "fontSize": 26, "fontWeight": 500, "color": "#3d6af5", "align": "center", "baseline": "middle"}, "encoding": {"x": {"datum": {"year":2020,"month":10,"date":9,"utc":true}, "type": "temporal"}, "y": {"datum": 61.9}}},
            {"mark": {"type": "text", "text": "BUY", "font": "Inter", "fontSize": 22, "color": "#3d6af5", "align": "center", "baseline": "middle"}, "encoding": {"x": {"datum": {"year":2020,"month":10,"date":9,"utc":true}, "type": "temporal"}, "y": {"datum": 61.52}}},
            {"mark": {"type": "text", "text": "Vol", "font": "Inter", "fontSize": 27, "color": "#131722", "align": "left", "baseline": "middle"}, "encoding": {"x": {"datum": {"year":2020,"month":5,"date":15,"utc":true}, "type": "temporal"}, "y": {"datum": 60.81}}},
            {"mark": {"type": "text", "text": "122.52B", "font": "Inter", "fontSize": 28.5, "color": "#e24e4e", "align": "left", "baseline": "middle"}, "encoding": {"x": {"datum": {"year":2020,"month":6,"date":17,"utc":true}, "type": "temporal"}, "y": {"datum": 60.81}}},
            {"mark": {"type": "rect", "fill": "white", "stroke": "#d8dbe3", "strokeWidth": 2.5, "cornerRadius": 6}, "encoding": {"x": {"datum": {"year":2020,"month":5,"date":15,"utc":true}, "type": "temporal"}, "x2": {"datum": {"year":2020,"month":6,"date":17,"utc":true}}, "y": {"datum": 60.42}, "y2": {"datum": 59.85}}},
            {"mark": {"type": "point", "shape": "M-1,0.5 L0,-0.5 L1,0.5", "filled": false, "stroke": "#131722", "strokeWidth": 3, "opacity": 1, "size": 256}, "encoding": {"x": {"datum": {"year":2020,"month":5,"date":31,"utc":true}, "type": "temporal"}, "y": {"datum": 60.13}}},
            {"mark": {"type": "rect", "fill": "white", "stroke": "#e0e3eb", "strokeWidth": 2.5, "cornerRadius": 10}, "encoding": {"x": {"datum": {"year":2024,"month":12,"date":9,"utc":true}, "type": "temporal"}, "x2": {"datum": {"year":2025,"month":2,"date":21,"utc":true}}, "y": {"datum": 63.0}, "y2": {"datum": 62.29}}},
            {"mark": {"type": "text", "text": "%", "font": "Inter", "fontSize": 24, "color": "#131722", "align": "left", "baseline": "middle"}, "encoding": {"x": {"datum": {"year":2024,"month":12,"date":14,"utc":true}, "type": "temporal"}, "y": {"datum": 62.63}}},
            {"mark": {"type": "rect", "fill": "black", "cornerRadiusTopRight": 4, "cornerRadiusBottomRight": 4}, "encoding": {"x": {"datum": {"year":2024,"month":12,"date":5,"utc":true}, "type": "temporal"}, "x2": {"datum": {"year":2025,"month":2,"date":13,"utc":true}}, "y": {"datum": 58.65}, "y2": {"datum": 57.78}}},
            {"mark": {"type": "text", "text": "58.41%", "font": "Inter", "fontSize": 24, "color": "white", "align": "left", "baseline": "middle"}, "encoding": {"x": {"datum": {"year":2024,"month":12,"date":15,"utc":true}, "type": "temporal"}, "y": {"datum": 58.42}}},
            {"mark": {"type": "text", "text": "6d 15h", "font": "Inter", "fontSize": 24, "color": "#c4c4c4", "align": "left", "baseline": "middle"}, "encoding": {"x": {"datum": {"year":2024,"month":12,"date":15,"utc":true}, "type": "temporal"}, "y": {"datum": 58.02}}},
            {"mark": {"type": "rect", "fill": "white", "stroke": "#e0e3eb", "strokeWidth": 2.5, "cornerRadius": 8}, "encoding": {"x": {"datum": {"year":2024,"month":12,"date":20,"utc":true}, "type": "temporal"}, "x2": {"datum": {"year":2025,"month":1,"date":12,"utc":true}}, "y": {"datum": 40.04}, "y2": {"datum": 39.44}}},
            {"mark": {"type": "text", "text": "A", "font": "Inter", "fontSize": 23, "color": "#131722", "align": "center", "baseline": "middle"}, "encoding": {"x": {"datum": {"year":2025,"month":1,"date":1,"utc":true}, "type": "temporal"}, "y": {"datum": 39.73}}},
            {"mark": {"type": "rect", "fill": "white", "stroke": "#e0e3eb", "strokeWidth": 2.5, "cornerRadius": 8}, "encoding": {"x": {"datum": {"year":2025,"month":1,"date":18,"utc":true}, "type": "temporal"}, "x2": {"datum": {"year":2025,"month":2,"date":10,"utc":true}}, "y": {"datum": 40.04}, "y2": {"datum": 39.44}}},
            {"mark": {"type": "text", "text": "L", "font": "Inter", "fontSize": 23, "color": "#131722", "align": "center", "baseline": "middle"}, "encoding": {"x": {"datum": {"year":2025,"month":1,"date":30,"utc":true}, "type": "temporal"}, "y": {"datum": 39.73}}},
            {"mark": {"type": "point", "shape": "circle", "filled": true, "fill": "white", "stroke": "#9c27b0", "strokeWidth": 3, "opacity": 1, "size": 1257}, "encoding": {"x": {"datum": {"year":2024,"month":10,"date":21,"utc":true}, "type": "temporal"}, "y": {"datum": 39.66}}},
            {"mark": {"type": "point", "shape": "M0.25,-1 L-0.55,0.2 L-0.05,0.2 L-0.25,1 L0.55,-0.2 L0.05,-0.2 Z", "filled": true, "fill": "#9c27b0", "opacity": 1, "size": 529}, "encoding": {"x": {"datum": {"year":2024,"month":10,"date":21,"utc":true}, "type": "temporal"}, "y": {"datum": 39.66}}},
            {"mark": {"type": "point", "shape": "M-1,0 L-0.55,-0.87 L0.55,-0.87 L1,0 L0.55,0.87 L-0.55,0.87 Z", "filled": false, "stroke": "#131722", "strokeWidth": 2.2, "opacity": 1, "size": 841}, "encoding": {"x": {"datum": {"year":2025,"month":1,"date":16,"utc":true}, "type": "temporal"}, "y": {"datum": 38.9}}},
            {"mark": {"type": "point", "shape": "circle", "filled": false, "stroke": "#131722", "strokeWidth": 2.2, "opacity": 1, "size": 64}, "encoding": {"x": {"datum": {"year":2025,"month":1,"date":16,"utc":true}, "type": "temporal"}, "y": {"datum": 38.9}}},
            {"mark": {"type": "point", "shape": "M-1,-0.5 L-0.1,-0.5 L-0.1,0.5 L-0.45,0.5 L-0.45,-0.12 L-1,-0.12 Z M0.03,-0.3 a0.13,0.13 0 1,0 0.26,0 a0.13,0.13 0 1,0 -0.26,0 Z M0.4,-0.5 L1,-0.5 L0.55,0.5 L-0.05,0.5 Z", "filled": true, "fill": "#131722", "stroke": "white", "strokeWidth": 4, "opacity": 1, "size": 3600}, "encoding": {"x": {"datum": {"year":2020,"month":6,"date":5,"utc":true}, "type": "temporal"}, "y": {"datum": 39.91}}},
            {"mark": {"type": "text", "text": "TradingView", "font": "Inter", "fontSize": 39.5, "fontWeight": "bold", "color": "#131722", "stroke": "white", "strokeWidth": 7, "align": "left", "baseline": "middle"}, "encoding": {"x": {"datum": {"year":2020,"month":7,"date":2,"utc":true}, "type": "temporal"}, "y": {"datum": 39.87}}},
            {"mark": {"type": "text", "text": "TradingView", "font": "Inter", "fontSize": 39.5, "fontWeight": "bold", "color": "#131722", "align": "left", "baseline": "middle"}, "encoding": {"x": {"datum": {"year":2020,"month":7,"date":2,"utc":true}, "type": "temporal"}, "y": {"datum": 39.87}}},
            {"mark": {"type": "rule", "color": "#e0e3eb", "strokeWidth": 3}, "encoding": {"x": {"datum": {"year":2020,"month":5,"date":3,"utc":true}, "type": "temporal"}, "x2": {"datum": {"year":2025,"month":3,"date":1,"utc":true}}, "y": {"datum": 38.51}}},
            {"mark": {"type": "rect", "fill": "#e0e3eb"}, "encoding": {"x": {"datum": {"year":2020,"month":5,"date":3,"utc":true}, "type": "temporal"}, "x2": {"datum": {"year":2025,"month":3,"date":1,"utc":true}}, "y": {"datum": 37.43}, "y2": {"datum": 37.2}}},
            {"mark": {"type": "text", "text": "1D", "font": "Inter", "fontSize": 27, "color": "#131722", "align": "center", "baseline": "middle"}, "encoding": {"x": {"datum": {"year":2020,"month":6,"date":1,"utc":true}, "type": "temporal"}, "y": {"datum": 37.95}}},
            {"mark": {"type": "text", "text": "5D", "font": "Inter", "fontSize": 27, "color": "#131722", "align": "center", "baseline": "middle"}, "encoding": {"x": {"datum": {"year":2020,"month":7,"date":7,"utc":true}, "type": "temporal"}, "y": {"datum": 37.95}}},
            {"mark": {"type": "text", "text": "1M", "font": "Inter", "fontSize": 27, "color": "#131722", "align": "center", "baseline": "middle"}, "encoding": {"x": {"datum": {"year":2020,"month":8,"date":14,"utc":true}, "type": "temporal"}, "y": {"datum": 37.95}}},
            {"mark": {"type": "text", "text": "3M", "font": "Inter", "fontSize": 27, "color": "#131722", "align": "center", "baseline": "middle"}, "encoding": {"x": {"datum": {"year":2020,"month":9,"date":22,"utc":true}, "type": "temporal"}, "y": {"datum": 37.95}}},
            {"mark": {"type": "text", "text": "6M", "font": "Inter", "fontSize": 27, "color": "#131722", "align": "center", "baseline": "middle"}, "encoding": {"x": {"datum": {"year":2020,"month":10,"date":31,"utc":true}, "type": "temporal"}, "y": {"datum": 37.95}}},
            {"mark": {"type": "text", "text": "YTD", "font": "Inter", "fontSize": 27, "color": "#131722", "align": "center", "baseline": "middle"}, "encoding": {"x": {"datum": {"year":2020,"month":12,"date":14,"utc":true}, "type": "temporal"}, "y": {"datum": 37.95}}},
            {"mark": {"type": "text", "text": "1Y", "font": "Inter", "fontSize": 27, "color": "#131722", "align": "center", "baseline": "middle"}, "encoding": {"x": {"datum": {"year":2021,"month":1,"date":25,"utc":true}, "type": "temporal"}, "y": {"datum": 37.95}}},
            {"mark": {"type": "text", "text": "5Y", "font": "Inter", "fontSize": 27, "color": "#131722", "align": "center", "baseline": "middle"}, "encoding": {"x": {"datum": {"year":2021,"month":3,"date":1,"utc":true}, "type": "temporal"}, "y": {"datum": 37.95}}},
            {"mark": {"type": "text", "text": "All", "font": "Inter", "fontSize": 27, "color": "#131722", "align": "center", "baseline": "middle"}, "encoding": {"x": {"datum": {"year":2021,"month":4,"date":5,"utc":true}, "type": "temporal"}, "y": {"datum": 37.95}}},
            {"mark": {"type": "rule", "color": "#e0e3eb", "strokeWidth": 2}, "encoding": {"x": {"datum": {"year":2021,"month":4,"date":27,"utc":true}, "type": "temporal"}, "y": {"datum": 38.27}, "y2": {"datum": 37.67}}},
            {"mark": {"type": "point", "shape": "M-0.8,0.2 L-0.8,-0.7 L0.8,-0.7 L0.8,0.9 L0,0.9 M-0.8,-0.4 L0.8,-0.4 M-0.4,-1 L-0.4,-0.7 M0.4,-1 L0.4,-0.7 M-1,0.6 L-0.2,0.6 M-0.5,0.3 L-0.2,0.6 L-0.5,0.9", "filled": false, "stroke": "#131722", "strokeWidth": 2, "opacity": 1, "size": 1296}, "encoding": {"x": {"datum": {"year":2021,"month":5,"date":24,"utc":true}, "type": "temporal"}, "y": {"datum": 37.99}}},
            {"mark": {"type": "text", "text": "09:39:38 (UTC)", "font": "Inter", "fontSize": 27.5, "color": "#131722", "align": "right", "baseline": "middle"}, "encoding": {"x": {"datum": {"year":2025,"month":2,"date":12,"utc":true}, "type": "temporal"}, "y": {"datum": 37.95}}}
          ]
        }
      ]
    }
  ],
  "config": {"view": {"stroke": null}}
}
